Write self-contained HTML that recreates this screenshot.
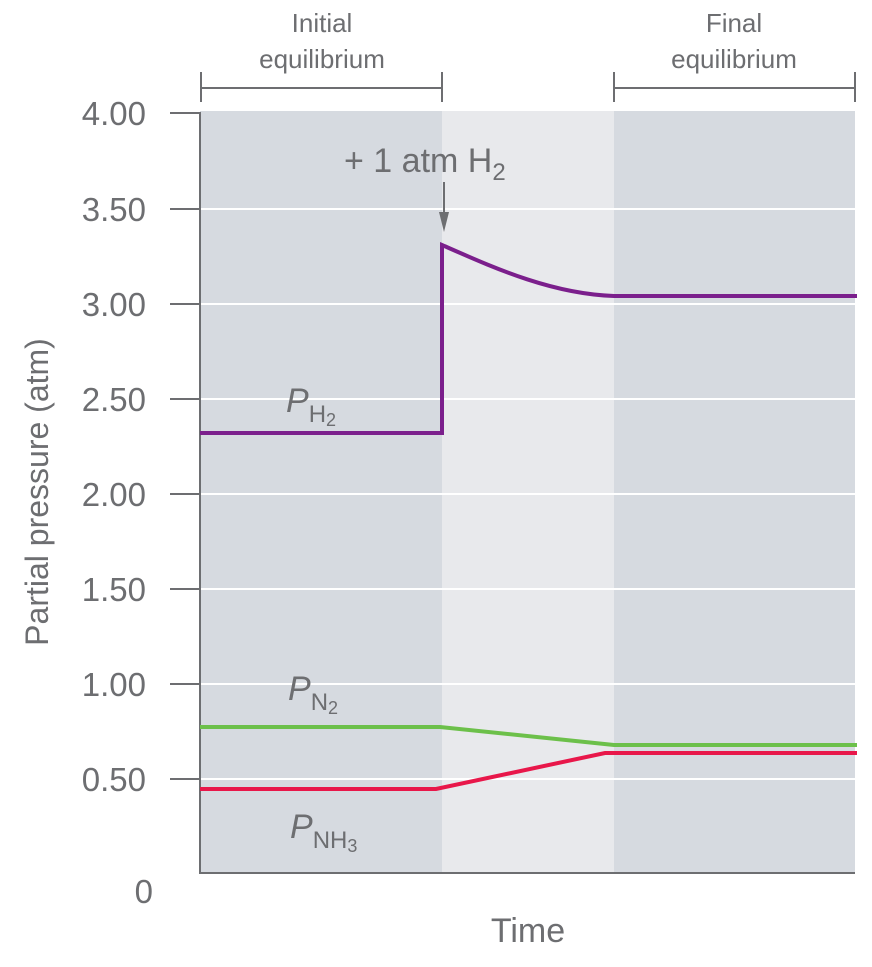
<!DOCTYPE html>
<html><head><style>body{margin:0;background:#fff}</style></head><body>
<svg width="872" height="962" xmlns="http://www.w3.org/2000/svg" font-family="Liberation Sans, sans-serif" fill="#6d6e71">
<rect x="200" y="111" width="242" height="762" fill="#d6dae0"/>
<rect x="442" y="111" width="172" height="762" fill="#e8e9ec"/>
<rect x="614" y="111" width="241" height="762" fill="#d6dae0"/>
<g stroke="#fff" stroke-width="2">
<line x1="200" x2="855" y1="209" y2="209"/><line x1="200" x2="855" y1="304" y2="304"/>
<line x1="200" x2="855" y1="399" y2="399"/><line x1="200" x2="855" y1="494" y2="494"/>
<line x1="200" x2="855" y1="589" y2="589"/><line x1="200" x2="855" y1="684" y2="684"/>
<line x1="200" x2="855" y1="779" y2="779"/>
</g>
<g stroke="#6d6e71" stroke-width="2" fill="none">
<polyline points="170,113 200,113 200,873 855,873"/>
<line x1="170" x2="200" y1="209" y2="209"/><line x1="170" x2="200" y1="304" y2="304"/>
<line x1="170" x2="200" y1="399" y2="399"/><line x1="170" x2="200" y1="494" y2="494"/>
<line x1="170" x2="200" y1="589" y2="589"/><line x1="170" x2="200" y1="684" y2="684"/>
<line x1="170" x2="200" y1="779" y2="779"/>
<line x1="201" x2="442" y1="88" y2="88"/><line x1="201" x2="201" y1="72" y2="102"/><line x1="442" x2="442" y1="72" y2="102"/>
<line x1="614" x2="855" y1="88" y2="88"/><line x1="614" x2="614" y1="72" y2="102"/><line x1="855" x2="855" y1="72" y2="102"/>
<line x1="444" x2="444" y1="182" y2="218"/>
</g>
<polygon points="439,212 449,212 444,232" fill="#6d6e71"/>
<g fill="none" stroke-width="4">
<path d="M200,433 H442 V245 C490,266 550,294 614,296 H857" stroke="#7b1f8c"/>
<path d="M200,727 H440 L614,745 H857" stroke="#6cc04a"/>
<path d="M200,789 H436 L605,753 H857" stroke="#e8174a"/>
</g>
<g font-size="33" text-anchor="end">
<text x="146" y="125">4.00</text><text x="146" y="221">3.50</text><text x="146" y="316">3.00</text>
<text x="146" y="411">2.50</text><text x="146" y="506">2.00</text><text x="146" y="601">1.50</text>
<text x="146" y="696">1.00</text><text x="146" y="791">0.50</text><text x="153" y="903">0</text>
</g>
<text font-size="32" transform="translate(48,492) rotate(-90)" text-anchor="middle">Partial pressure (atm)</text>
<text x="528" y="942" font-size="34" text-anchor="middle">Time</text>
<g font-size="26" text-anchor="middle">
<text x="322" y="32">Initial</text><text x="322" y="68">equilibrium</text>
<text x="734" y="32">Final</text><text x="734" y="68">equilibrium</text>
</g>
<text x="344" y="172" font-size="34">+ 1 atm H<tspan font-size="24" dy="8">2</tspan></text>
<text x="286" y="412" font-size="34" font-style="italic">P<tspan font-size="24" font-style="normal" dy="10">H</tspan><tspan font-size="18" font-style="normal" dy="4">2</tspan></text>
<text x="288" y="700" font-size="34" font-style="italic">P<tspan font-size="24" font-style="normal" dy="10">N</tspan><tspan font-size="18" font-style="normal" dy="4">2</tspan></text>
<text x="290" y="838" font-size="34" font-style="italic">P<tspan font-size="24" font-style="normal" dy="10">NH</tspan><tspan font-size="18" font-style="normal" dy="4">3</tspan></text>
</svg>
</body></html>
